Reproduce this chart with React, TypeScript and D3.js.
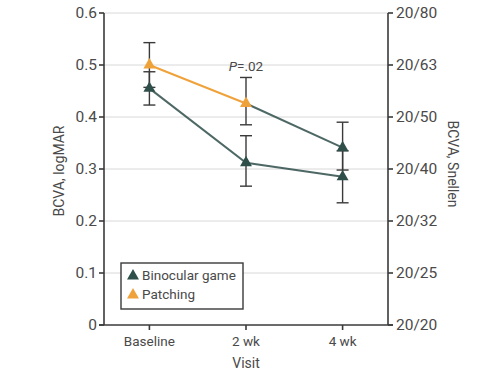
import React from "react";
import * as d3 from "d3";

const visits = ["Baseline", "2 wk", "4 wk"];
const leftTicks = [0, 0.1, 0.2, 0.3, 0.4, 0.5, 0.6];
const leftTickLabels = ["0", "0.1", "0.2", "0.3", "0.4", "0.5", "0.6"];
const snellenLabels = ["20/20", "20/25", "20/32", "20/40", "20/50", "20/63", "20/80"];

// Binocular game
const binoMean = [0.455, 0.312, 0.285];
const binoLow = [0.423, 0.267, 0.235];
const binoHigh = [0.487, 0.364, 0.335];
// Patching
const patchMean = [0.5, 0.426, 0.341];
const patchLow = [0.457, 0.385, 0.298];
const patchHigh = [0.543, 0.476, 0.39];

const ORANGE = "#f0a23a";
const GREEN = "#2f4f4a";
const AXIS = "#3a3a3a";
const TEXT = "#4a4a4a";
const FONT = "'Roboto', 'Open Sans', sans-serif";

export default function App() {
  const W = 481, H = 375;
  const x0 = 104, x1 = 388, yTop = 13, yBot = 325;
  const x = d3.scalePoint<string>().domain(visits).range([x0, x1]).padding(0.47);
  const y = d3.scaleLinear().domain([0, 0.6]).range([yBot, yTop]);
  const tri = d3.symbol().type(d3.symbolTriangle).size(62)() as string;
  const line = d3.line<number>().x((_, i) => x(visits[i])!).y((d) => y(d));

  const errBars = (lo: number[], hi: number[], key: string) =>
    visits.map((v, i) => {
      const cx = x(v)!;
      return (
        <g key={key + i} stroke={AXIS} strokeWidth={1.4}>
          <line x1={cx} x2={cx} y1={y(lo[i])} y2={y(hi[i])} />
          <line x1={cx - 6} x2={cx + 6} y1={y(lo[i])} y2={y(lo[i])} />
          <line x1={cx - 6} x2={cx + 6} y1={y(hi[i])} y2={y(hi[i])} />
        </g>
      );
    });

  return (
    <svg width={W} height={H} style={{ position: "absolute", left: 0, top: 0, background: "#fff" }} fontFamily={FONT}>
      <rect width={W} height={H} fill="#fff" />
      {leftTicks.slice(1).map((t) => (
        <line key={"g" + t} x1={x0} x2={x1} y1={y(t)} y2={y(t)} stroke="#d8d8d8" strokeWidth={1} />
      ))}
      {/* axes */}
      <line x1={x0} x2={x0} y1={yTop} y2={yBot} stroke={AXIS} strokeWidth={1.6} />
      <line x1={x1} x2={x1} y1={yTop} y2={yBot} stroke={AXIS} strokeWidth={1.6} />
      <line x1={x0 - 5} x2={x1 + 5} y1={yBot} y2={yBot} stroke={AXIS} strokeWidth={1.6} />
      {leftTicks.map((t, i) => (
        <g key={"t" + t}>
          <line x1={x0 - 5} x2={x0} y1={y(t)} y2={y(t)} stroke={AXIS} strokeWidth={1.6} />
          <text x={x0 - 7} y={y(t)} dy="0.35em" textAnchor="end" fontSize={15.5} fill={TEXT}>{leftTickLabels[i]}</text>
          <line x1={x1} x2={x1 + 5} y1={y(t)} y2={y(t)} stroke={AXIS} strokeWidth={1.6} />
          <text x={x1 + 8} y={y(t)} dy="0.35em" textAnchor="start" fontSize={15.5} fill={TEXT}>{snellenLabels[i]}</text>
        </g>
      ))}
      {visits.map((v) => (
        <g key={"x" + v}>
          <line x1={x(v)!} x2={x(v)!} y1={yBot} y2={yBot + 5} stroke={AXIS} strokeWidth={1.6} />
          <text x={x(v)!} y={yBot + 16} dy="0.35em" textAnchor="middle" fontSize={13.5} fill={TEXT}>{v}</text>
        </g>
      ))}
      <text x={(x0 + x1) / 2} y={363} dy="0.35em" textAnchor="middle" fontSize={14} fill={TEXT}>Visit</text>
      <text transform={`translate(59,${(yTop + yBot) / 2 + 2}) rotate(-90)`} textAnchor="middle" dy="0.35em" fontSize={14} fill={TEXT}>BCVA, logMAR</text>
      <text transform={`translate(453,${(yTop + yBot) / 2 - 5}) rotate(90)`} textAnchor="middle" dy="0.35em" fontSize={14} fill={TEXT}>BCVA, Snellen</text>

      {/* lines */}
      <path d={line(binoMean) || ""} fill="none" stroke={GREEN} strokeWidth={2} opacity={0.85} />
      <path d={line(patchMean.slice(0, 2)) || ""} fill="none" stroke={ORANGE} strokeWidth={2} />
      <path
        d={d3.line<number>().x((_, i) => x(visits[i + 1])!).y((d) => y(d))(patchMean.slice(1)) || ""}
        fill="none" stroke={GREEN} strokeWidth={2} opacity={0.85}
      />
      {errBars(binoLow, binoHigh, "b")}
      {errBars(patchLow, patchHigh, "p")}
      {visits.map((v, i) => (
        <path key={"bm" + i} d={tri} transform={`translate(${x(v)},${y(binoMean[i])})`} fill={GREEN} />
      ))}
      {visits.map((v, i) => (
        <path key={"pm" + i} d={tri} transform={`translate(${x(v)},${y(patchMean[i])})`} fill={i < 2 ? ORANGE : GREEN} />
      ))}
      <text x={x("2 wk")!} y={y(0.497)} dy="0.35em" textAnchor="middle" fontSize={13.5} fill={TEXT}>
        <tspan fontStyle="italic">P</tspan>=.02
      </text>

      {/* legend */}
      <rect x={121} y={263} width={122} height={46} fill="#fff" stroke={AXIS} strokeWidth={1.4} />
      <path d={tri} transform="translate(133,276)" fill={GREEN} />
      <text x={142} y={275} dy="0.35em" fontSize={13.5} fill={TEXT}>Binocular game</text>
      <path d={tri} transform="translate(133,295)" fill={ORANGE} />
      <text x={142} y={294} dy="0.35em" fontSize={13.5} fill={TEXT}>Patching</text>
    </svg>
  );
}
